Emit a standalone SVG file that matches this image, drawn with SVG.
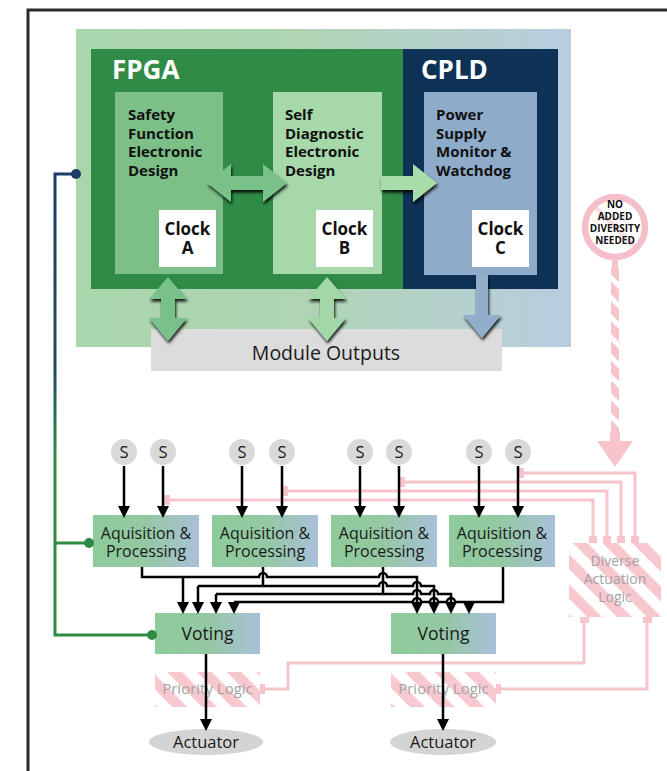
<svg xmlns="http://www.w3.org/2000/svg" width="667" height="771" viewBox="0 0 667 771">
<defs>
<style>
.t{font-family:"Open Sans","Liberation Sans",sans-serif;fill:#1a1a1a}
.tb{font-family:"Open Sans","Liberation Sans",sans-serif;font-weight:bold;font-size:15px;fill:#111}
.clk{font-family:"Open Sans","Liberation Sans",sans-serif;font-weight:bold;font-size:17px;fill:#111;text-anchor:middle}
.ttl{font-family:"Open Sans","Liberation Sans",sans-serif;font-weight:bold;font-size:26px;fill:#fff}
.mid{text-anchor:middle}
.gray{fill:#a3a3a3}
.wire{fill:none;stroke:#000;stroke-width:2.5}
.pk{fill:none;stroke:#f7c4cb;stroke-width:3}
.pkf{fill:#f7c4cb}
.sen{fill:#d9d9d9}
.box{fill:url(#boxG)}
.clkbox{fill:#fff}
</style>
<linearGradient id="outerG" x1="0" y1="0" x2="1" y2="0">
<stop offset="0" stop-color="#a9d6ab"/><stop offset="0.45" stop-color="#afd5b3"/><stop offset="1" stop-color="#b9cde0"/>
</linearGradient>
<linearGradient id="boxG" x1="0" y1="0" x2="1" y2="0">
<stop offset="0" stop-color="#8ecb9b"/><stop offset="0.5" stop-color="#94c8a3"/><stop offset="1" stop-color="#a9c0d8"/>
</linearGradient>
<linearGradient id="wireG" gradientUnits="userSpaceOnUse" x1="0" y1="174" x2="0" y2="635">
<stop offset="0" stop-color="#1b3d66"/><stop offset="0.42" stop-color="#1f4a5e"/><stop offset="0.6" stop-color="#2e8b44"/><stop offset="1" stop-color="#2e8b44"/>
</linearGradient>
<pattern id="hatch" patternUnits="userSpaceOnUse" width="21" height="21" patternTransform="rotate(-45)">
<rect width="10.5" height="21" fill="#f8c8cf"/>
</pattern>
<pattern id="hatch2" patternUnits="userSpaceOnUse" width="14" height="14" patternTransform="rotate(-45)">
<rect width="9" height="14" fill="#f7c4cb"/>
</pattern>
<marker id="ah" viewBox="0 0 12 12" refX="4" refY="6" markerWidth="12" markerHeight="12" markerUnits="userSpaceOnUse" orient="auto">
<path d="M0,0 L12,6 L0,12 z" fill="#000"/>
</marker>
<filter id="sh" x="-30%" y="-30%" width="160%" height="170%">
<feDropShadow dx="1" dy="2.5" stdDeviation="1.6" flood-color="#000" flood-opacity="0.9"/>
</filter>
</defs>

<rect width="667" height="771" fill="#fff"/>
<path d="M28,771 V10 H667" fill="none" stroke="#2a2a2a" stroke-width="3"/>

<g id="module">
<rect x="76" y="29" width="495" height="318" fill="url(#outerG)"/>
</g>
<g id="fpga">
<rect x="91" y="49" width="312" height="240" fill="#2f8b45"/>
<text class="ttl" x="112" y="79">FPGA</text>
</g>
<g id="cpld">
<rect x="403" y="49" width="155" height="240" fill="#0e3156"/>
<text class="ttl" x="421" y="79">CPLD</text>
</g>
<g id="safety">
<rect x="115" y="92" width="108" height="182" fill="#7cc088"/>
<text class="tb" x="128" y="120">Safety</text>
<text class="tb" x="128" y="138.5">Function</text>
<text class="tb" x="128" y="157">Electronic</text>
<text class="tb" x="128" y="175.5">Design</text>
<rect class="clkbox" x="159" y="210" width="57" height="57"/>
<text class="clk" x="187.5" y="235">Clock</text>
<text class="clk" x="187.5" y="254">A</text>
</g>
<g id="selfdiag">
<rect x="273" y="92" width="109" height="182" fill="#a6d8a9"/>
<text class="tb" x="285" y="120">Self</text>
<text class="tb" x="285" y="138.5">Diagnostic</text>
<text class="tb" x="285" y="157">Electronic</text>
<text class="tb" x="285" y="175.5">Design</text>
<rect class="clkbox" x="316" y="210" width="57" height="57"/>
<text class="clk" x="344.5" y="235">Clock</text>
<text class="clk" x="344.5" y="254">B</text>
</g>
<g id="psm">
<rect x="424" y="92" width="113" height="183" fill="#8eabc9"/>
<text class="tb" x="436" y="120">Power</text>
<text class="tb" x="436" y="138.5">Supply</text>
<text class="tb" x="436" y="157">Monitor &amp;</text>
<text class="tb" x="436" y="175.5">Watchdog</text>
<rect class="clkbox" x="472" y="210" width="57" height="57"/>
<text class="clk" x="500.5" y="235">Clock</text>
<text class="clk" x="500.5" y="254">C</text>
</g>
<g id="module-outputs">
<rect x="151" y="329" width="351" height="42" fill="#dcdcdc"/>
<text class="t mid" x="326" y="360" font-size="19.5">Module Outputs</text>
</g>

<g id="no-diversity">
<circle cx="615" cy="227" r="30" fill="#fff" stroke="#f4bfc8" stroke-width="6.5"/>
<line x1="594" y1="206" x2="636" y2="248" stroke="#f4bfc8" stroke-width="5" opacity="0.5"/>
<g font-family="'Open Sans','Liberation Sans',sans-serif" font-weight="bold" font-size="10" fill="#111" text-anchor="middle">
<text x="615" y="208">NO</text>
<text x="615" y="220">ADDED</text>
<text x="615" y="232">DIVERSITY</text>
<text x="615" y="244">NEEDED</text>
</g>
</g>

<g id="sensors">
<g id="s1"><circle class="sen" cx="124" cy="452" r="13"/><text class="t mid" x="124" y="458" font-size="16.5">S</text></g>
<g id="s2"><circle class="sen" cx="163" cy="452" r="13"/><text class="t mid" x="163" y="458" font-size="16.5">S</text></g>
<g id="s3"><circle class="sen" cx="242" cy="452" r="13"/><text class="t mid" x="242" y="458" font-size="16.5">S</text></g>
<g id="s4"><circle class="sen" cx="282" cy="452" r="13"/><text class="t mid" x="282" y="458" font-size="16.5">S</text></g>
<g id="s5"><circle class="sen" cx="360" cy="452" r="13"/><text class="t mid" x="360" y="458" font-size="16.5">S</text></g>
<g id="s6"><circle class="sen" cx="399" cy="452" r="13"/><text class="t mid" x="399" y="458" font-size="16.5">S</text></g>
<g id="s7"><circle class="sen" cx="479" cy="452" r="13"/><text class="t mid" x="479" y="458" font-size="16.5">S</text></g>
<g id="s8"><circle class="sen" cx="518" cy="452" r="13"/><text class="t mid" x="518" y="458" font-size="16.5">S</text></g>
</g>

<g id="acq1"><rect class="box" x="93" y="515" width="106" height="52"/><text class="t mid" x="146" y="539" font-size="16">Aquisition &amp;</text><text class="t mid" x="146" y="557" font-size="16">Processing</text></g>
<g id="acq2"><rect class="box" x="212" y="515" width="106" height="52"/><text class="t mid" x="265" y="539" font-size="16">Aquisition &amp;</text><text class="t mid" x="265" y="557" font-size="16">Processing</text></g>
<g id="acq3"><rect class="box" x="331" y="515" width="106" height="52"/><text class="t mid" x="384" y="539" font-size="16">Aquisition &amp;</text><text class="t mid" x="384" y="557" font-size="16">Processing</text></g>
<g id="acq4"><rect class="box" x="449" y="515" width="106" height="52"/><text class="t mid" x="502" y="539" font-size="16">Aquisition &amp;</text><text class="t mid" x="502" y="557" font-size="16">Processing</text></g>

<g id="diverse">
<rect x="569" y="543" width="92" height="74" fill="url(#hatch)"/>
<text class="t mid gray" x="615" y="566" font-size="14">Diverse</text>
<text class="t mid gray" x="615" y="584" font-size="14">Actuation</text>
<text class="t mid gray" x="615" y="602" font-size="14">Logic</text>
</g>

<g id="vote1"><rect class="box" x="155" y="613" width="105" height="41"/><text class="t mid" x="207.5" y="640" font-size="17.5">Voting</text></g>
<g id="vote2"><rect class="box" x="391" y="613" width="105" height="41"/><text class="t mid" x="443.5" y="640" font-size="17.5">Voting</text></g>

<g id="prio1"><rect x="155" y="672" width="105" height="35" fill="url(#hatch)"/><text class="t mid gray" x="207.5" y="694" font-size="15">Priority Logic</text></g>
<g id="prio2"><rect x="391" y="672" width="105" height="35" fill="url(#hatch)"/><text class="t mid gray" x="443.5" y="694" font-size="15">Priority Logic</text></g>

<g id="act1"><ellipse cx="206" cy="742" rx="57" ry="13" fill="#d4d4d4"/><text class="t mid" x="206" y="748" font-size="16.5">Actuator</text></g>
<g id="act2"><ellipse cx="443" cy="742" rx="53" ry="13" fill="#d4d4d4"/><text class="t mid" x="443" y="748" font-size="16.5">Actuator</text></g>

<g id="connectors">
<g filter="url(#sh)">
<path d="M207,183 L231,164 L231,176 L263,176 L263,164 L287,183 L263,202 L263,190 L231,190 L231,202 Z" fill="#78c289"/>
<path d="M381,176 L413,176 L413,164 L437,183 L413,202 L413,190 L381,190 Z" fill="#a8dca8"/>
<path d="M168,277 L187,299 L175,299 L175,318 L187,318 L168,341 L149,318 L161,318 L161,299 L149,299 Z" fill="#78c289"/>
<path d="M327,277 L346,299 L334,299 L334,318 L346,318 L327,341 L308,318 L320,318 L320,299 L308,299 Z" fill="#a2d8a8"/>
<path d="M476,275 L488,275 L488,315 L501,315 L482,338 L463,315 L476,315 Z" fill="#93aecb"/>
</g>

<path d="M76,174 H55 V635 H152 M55,543 H89" fill="none" stroke="url(#wireG)" stroke-width="3"/>
<circle cx="76" cy="174" r="5" fill="#1b3d66"/>
<circle cx="89" cy="543" r="5" fill="#2e8b44"/>
<circle cx="152" cy="635" r="5" fill="#2e8b44"/>

<rect class="pkf" x="612" y="258" width="6" height="12"/>
<rect x="611" y="268" width="8" height="166" fill="url(#hatch2)"/>
<rect class="pkf" x="610" y="432" width="10" height="10"/>
<polygon class="pkf" points="597,441 633,441 615,467"/>

<path class="pk" d="M635,538 V473 H518"/>
<path class="pk" d="M621,538 V482 H399"/>
<path class="pk" d="M607,538 V491 H282"/>
<path class="pk" d="M593,538 V500 H164"/>
<rect class="pkf" x="631" y="536" width="8" height="7"/>
<rect class="pkf" x="617" y="536" width="8" height="7"/>
<rect class="pkf" x="603" y="536" width="8" height="7"/>
<rect class="pkf" x="589" y="536" width="8" height="7"/>
<rect class="pkf" x="517" y="468" width="7" height="10"/>
<rect class="pkf" x="398" y="477" width="7" height="10"/>
<rect class="pkf" x="281" y="486" width="7" height="10"/>
<rect class="pkf" x="163" y="495" width="7" height="10"/>
<path class="pk" d="M264,689 H288 V663 H584 V622"/>
<path class="pk" d="M500,689 H647 V622"/>
<rect class="pkf" x="260" y="684" width="5" height="10"/>
<rect class="pkf" x="496" y="684" width="5" height="10"/>
<rect class="pkf" x="580" y="617" width="9" height="6"/>
<rect class="pkf" x="643" y="617" width="9" height="6"/>

<g class="wire" marker-end="url(#ah)">
<path d="M124,466 V510"/><path d="M163,466 V510"/>
<path d="M242,466 V510"/><path d="M282,466 V510"/>
<path d="M360,466 V510"/><path d="M399,466 V510"/>
<path d="M479,466 V510"/><path d="M518,466 V510"/>
</g>

<path class="wire" d="M142,567 V577 H259 A4,4 0 0 1 267,577 H379 A4,4 0 0 1 387,577 H417 V606" marker-end="url(#ah)"/>
<path class="wire" d="M183,577 V606" marker-end="url(#ah)"/>
<path class="wire" d="M263,567 V586"/>
<path class="wire" d="M198,586 H379 A4,4 0 0 1 387,586 H413 A4,4 0 0 1 421,586 H434 V606" marker-end="url(#ah)"/>
<path class="wire" d="M198,586 V606" marker-end="url(#ah)"/>
<path class="wire" d="M383,567 V594"/>
<path class="wire" d="M216,594 H413 A4,4 0 0 1 421,594 H430 A4,4 0 0 1 438,594 H451 V606" marker-end="url(#ah)"/>
<path class="wire" d="M216,594 V606" marker-end="url(#ah)"/>
<path class="wire" d="M234,602 H413 A4,4 0 0 1 421,602 H430 A4,4 0 0 1 438,602 H447 A4,4 0 0 1 455,602 H503 V567"/>
<path class="wire" d="M234,602 V606" marker-end="url(#ah)"/>
<path class="wire" d="M469,602 V606" marker-end="url(#ah)"/>

<path class="wire" d="M206,654 V723" marker-end="url(#ah)"/>
<path class="wire" d="M443,654 V723" marker-end="url(#ah)"/>
</g>
</svg>
